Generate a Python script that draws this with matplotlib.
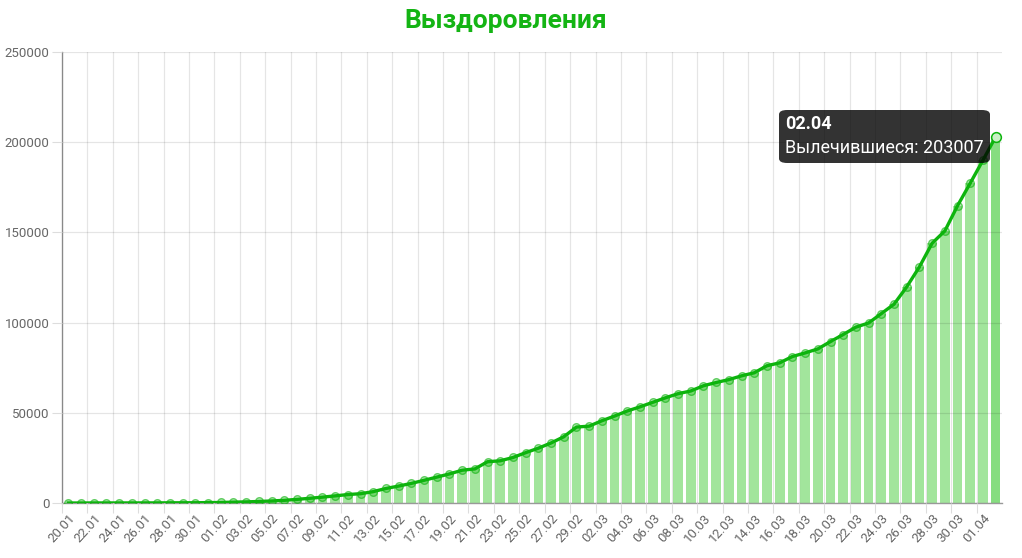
import matplotlib
matplotlib.use('Agg')
import matplotlib.pyplot as plt
from matplotlib.patches import FancyBboxPatch

dates = ['20.01', '21.01', '22.01', '23.01', '24.01', '25.01', '26.01', '27.01', '28.01', '29.01',
         '30.01', '31.01', '01.02', '02.02', '03.02', '04.02', '05.02', '06.02', '07.02', '08.02',
         '09.02', '10.02', '11.02', '12.02', '13.02', '14.02', '15.02', '16.02', '17.02', '18.02',
         '19.02', '20.02', '21.02', '22.02', '23.02', '24.02', '25.02', '26.02', '27.02', '28.02',
         '29.02', '01.03', '02.03', '03.03', '04.03', '05.03', '06.03', '07.03', '08.03', '09.03',
         '10.03', '11.03', '12.03', '13.03', '14.03', '15.03', '16.03', '17.03', '18.03', '19.03',
         '20.03', '21.03', '22.03', '23.03', '24.03', '25.03', '26.03', '27.03', '28.03', '29.03',
         '30.03', '31.03', '01.04', '02.04']
recovered = [0, 0, 28, 30, 36, 39, 52, 61, 107, 126,
             143, 222, 284, 472, 623, 852, 1124, 1487, 2011, 2616,
             3244, 3946, 4683, 5150, 6295, 8058, 9395, 10865, 12583, 14352,
             16121, 18177, 18890, 22886, 23394, 25227, 27905, 30384, 33277, 36711,
             42100, 42600, 45600, 48200, 51000, 53300, 55800, 58300, 60600, 62100,
             65000, 66800, 68400, 70500, 72200, 76100, 77700, 81200, 83200, 85400,
             89500, 93400, 97500, 99800, 105000, 110200, 119800, 130900, 144000, 150800,
             164800, 177300, 190000, 203007]
title = 'Выздоровления'
series_name = 'Вылечившиеся'
y_ticks = [0, 50000, 100000, 150000, 200000, 250000]

plt.rcParams['font.family'] = ['Roboto', 'DejaVu Sans']

W, H = 1022, 558
fig = plt.figure(figsize=(W / 100, H / 100), dpi=100)
ax = fig.add_axes([62 / W, 1 - 503 / H, 940 / W, 451 / H])

n = len(dates)
x = list(range(n))
line_c = '#0db40d'
bar_colors = ['#a2e59c'] * (n - 1) + ['#86dd80']
ax.bar(x, recovered, width=0.76, color=bar_colors, zorder=1)
ax.plot(x, recovered, color=line_c, lw=2.4, zorder=3,
        marker='o', ms=5.5, mfc=(0.05, 0.7, 0.05, 0.3), mec=(0.05, 0.7, 0.05, 0.6), mew=1)
ax.plot(x[-1], recovered[-1], 'o', ms=7, mfc='#c9f0c5', mec=line_c, mew=1.1, zorder=4)

ax.set_xlim(-0.5, n - 0.5)
ax.set_ylim(0, 250000)
ax.set_yticks(y_ticks)
ax.set_yticklabels([str(v) for v in y_ticks])

# gridlines at the left edge of every labelled category, labels at the centres
ax.set_xticks([i - 0.5 for i in range(0, n, 2)])
ax.set_xticklabels([])
ax.set_xticks(list(range(0, n, 2)), minor=True)
ax.set_xticklabels([dates[i] for i in range(0, n, 2)], minor=True,
                   rotation=48, ha='right', va='top', rotation_mode='anchor')
ax.tick_params(axis='x', which='minor', length=0, pad=6, labelsize=9.5, labelcolor='#666666')
ax.tick_params(axis='x', which='major', length=7, color='#dddddd')
ax.tick_params(axis='y', length=7, color='#dddddd', labelsize=9.5, labelcolor='#666666', pad=2)

ax.grid(True, which='major', color='#000000', alpha=0.1, lw=0.9, zorder=2)
ax.set_axisbelow(False)
for s in ['top', 'right']:
    ax.spines[s].set_visible(False)
for s in ['left', 'bottom']:
    ax.spines[s].set_color('#999999')
    ax.spines[s].set_linewidth(1)

fig.text(506 / W, 1 - 21 / H, title, ha='center', va='center', fontsize=19,
         fontweight='bold', color='#14b414')

# tooltip for the last point
bx0, by0, bx1, by1 = 779, 110, 990, 163
box = FancyBboxPatch((bx0 / W, 1 - by1 / H), (bx1 - bx0) / W, (by1 - by0) / H,
                     boxstyle='round,pad=0,rounding_size=0.008', transform=fig.transFigure,
                     facecolor=(0, 0, 0, 0.8), edgecolor='none', zorder=10)
fig.patches.append(box)
fig.text(785 / W, 1 - 124 / H, dates[-1], ha='left', va='center', fontsize=13,
         fontweight='bold', color='white', zorder=11)
fig.text(785 / W, 1 - 148 / H, f'{series_name}: {recovered[-1]}', ha='left', va='center',
         fontsize=13, color='white', zorder=11)

fig.savefig('out.png', dpi=100)
